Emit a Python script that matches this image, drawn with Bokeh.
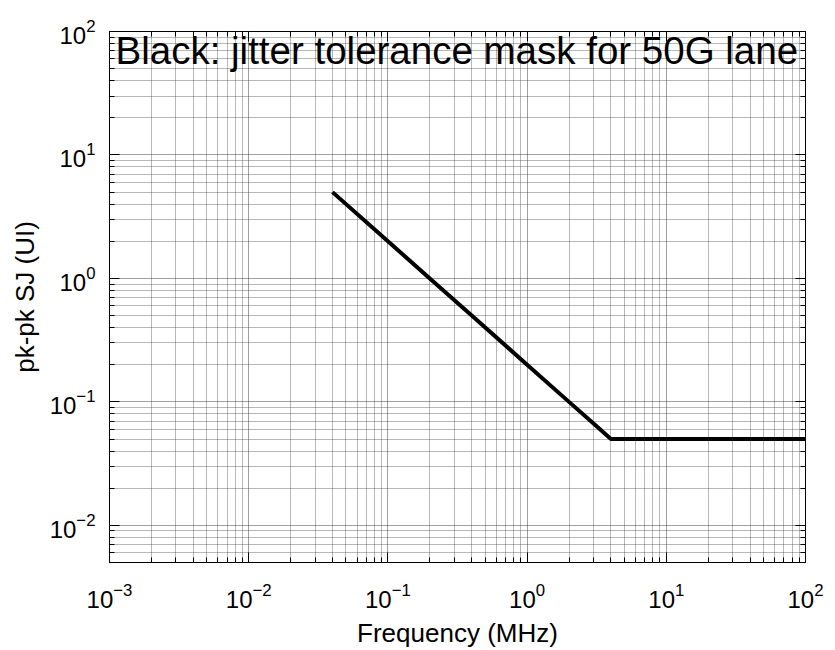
from bokeh.plotting import figure
from bokeh.models import (LogAxis, FixedTicker, Label, CustomJSTickFormatter, Range1d)
from bokeh.embed import file_html
from bokeh.resources import INLINE

# ---- data ----
freq_mhz = [0.04, 0.1, 0.2, 0.4, 1.0, 2.0, 3.0, 4.0, 100.0]
sj_ui = [5.0, 2.0, 1.0, 0.5, 0.2, 0.1, 0.0667, 0.05, 0.05]

x_major = [1e-3, 1e-2, 1e-1, 1e0, 1e1, 1e2]
y_major = [1e-2, 1e-1, 1e0, 1e1, 1e2]
x_minor = [m * 10.0 ** k for k in range(-3, 2) for m in range(2, 10)]
y_minor = [m * 10.0 ** k for k in range(-3, 2) for m in range(2, 10)]

title_text = "Black: jitter tolerance mask for 50G lane"
x_label = "Frequency (MHz)"
y_label = "pk-pk SJ (UI)"

FONT = "Liberation Sans"

FW, FH = 696, 532
p = figure(width=835, height=650, x_axis_type="log", y_axis_type="log",
           x_range=Range1d(1e-3, 1e2), y_range=Range1d(0.005, 100),
           output_backend="svg", toolbar_location=None,
           min_border_left=109, min_border_right=30,
           min_border_top=31, min_border_bottom=87)
p.background_fill_color = "white"
p.border_fill_color = "white"
p.outline_line_color = "black"
p.outline_line_width = 1

xt = FixedTicker(ticks=x_major, minor_ticks=x_minor)
yt = FixedTicker(ticks=y_major, minor_ticks=y_minor)

for ax, t in ((p.xaxis[0], xt), (p.yaxis[0], yt)):
    ax.ticker = t
    ax.major_tick_in = 10
    ax.major_tick_out = 0
    ax.minor_tick_in = 5
    ax.minor_tick_out = 0
    ax.axis_line_color = "black"
    ax.major_tick_line_color = "black"
    ax.minor_tick_line_color = "black"
    ax.major_label_text_font = FONT
    ax.major_label_text_font_size = "24px"
    ax.major_label_text_color = "black"
    ax.axis_label_text_font = FONT
    ax.axis_label_text_font_size = "26px"
    ax.axis_label_text_font_style = "normal"
    ax.axis_label_text_color = "black"

p.xaxis[0].axis_label = x_label
p.yaxis[0].axis_label = y_label
p.xaxis[0].major_label_standoff = 20
p.xaxis[0].axis_label_standoff = 7
p.yaxis[0].major_label_standoff = 14
p.yaxis[0].axis_label_standoff = 7

blank = CustomJSTickFormatter(code="return ''")
for loc, t in (("above", xt), ("right", yt)):
    a = LogAxis(ticker=t, formatter=blank, major_tick_in=10, major_tick_out=0,
                minor_tick_in=5, minor_tick_out=0, major_label_standoff=0,
                axis_line_color="black", major_tick_line_color="black",
                minor_tick_line_color="black", major_label_text_font_size="1px")
    p.add_layout(a, loc)

for g, t in ((p.xgrid[0], xt), (p.ygrid[0], yt)):
    g.ticker = t
    g.grid_line_color = "#111111"
    g.grid_line_alpha = 0.8
    g.grid_line_dash = "1 1"
    g.minor_grid_line_color = "#333333"
    g.minor_grid_line_alpha = 0.7
    g.minor_grid_line_dash = "1 1"

p.line(freq_mhz, sj_ui, line_color="black", line_width=4)

p.add_layout(Label(x=6, y=FH + 2, x_units="screen", y_units="screen",
                   text=title_text, text_font=FONT,
                   text_font_size="38.5px", text_color="black",
                   text_baseline="top", text_align="left"))

open("out.html", "w").write(file_html(p, INLINE))
